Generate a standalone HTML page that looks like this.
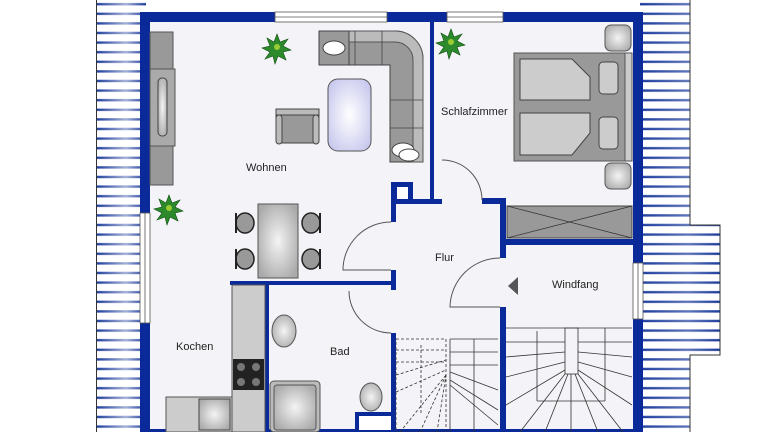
<!DOCTYPE html>
<html><head><meta charset="utf-8"><style>
html,body{margin:0;padding:0;background:#fff;width:768px;height:432px;overflow:hidden}
svg{display:block}
text{font-family:"Liberation Sans",sans-serif;font-size:11px;fill:#222}
</style></head><body>
<svg width="768" height="432" viewBox="0 0 768 432" xmlns="http://www.w3.org/2000/svg">
<defs>
<pattern id="hl" width="10" height="9.6" patternUnits="userSpaceOnUse">
<rect x="0" y="3" width="10" height="2.4" fill="#1c3c9c"/>
</pattern>
<linearGradient id="fadeL" x1="0" x2="1"><stop offset="0" stop-color="#fff" stop-opacity="0"/><stop offset="0.6" stop-color="#fff" stop-opacity="0.6"/><stop offset="1" stop-color="#fff" stop-opacity="0"/></linearGradient>
<radialGradient id="tab" cx="0.5" cy="0.5" r="0.6"><stop offset="0" stop-color="#fff"/><stop offset="1" stop-color="#c9c9ee"/></radialGradient>
<radialGradient id="gr" cx="0.5" cy="0.5" r="0.6"><stop offset="0" stop-color="#f4f4f4"/><stop offset="1" stop-color="#aaa"/></radialGradient>
</defs>
<rect x="96" y="0" width="50" height="432" fill="url(#hl)"/>
<rect x="96" y="0" width="50" height="432" fill="url(#fadeL)"/>
<line x1="96.5" y1="0" x2="96.5" y2="432" stroke="#333" stroke-width="1"/>
<rect x="640" y="0" width="50" height="432" fill="url(#hl)"/>
<rect x="690" y="225" width="30" height="130" fill="url(#hl)"/>
<rect x="640" y="0" width="80" height="432" fill="url(#fadeL)" opacity="0.5"/>
<path d="M690 0V225H720V355H690V432" fill="none" stroke="#333" stroke-width="1"/>
<rect x="146" y="18" width="490" height="414" fill="#f4f4f8"/>
<g fill="#0a2a9a">
<rect x="140" y="12" width="503" height="10"/>
<rect x="140" y="12" width="10" height="420"/>
<rect x="633" y="12" width="10" height="420"/>
<rect x="140" y="429" width="503" height="3"/>
</g>
<g fill="#fff" stroke="#555" stroke-width="0.8">
<rect x="275" y="12" width="112" height="10"/><line x1="275" y1="17" x2="387" y2="17"/>
<rect x="447" y="12" width="56" height="10"/><line x1="447" y1="17" x2="503" y2="17"/>
<rect x="140" y="213" width="10" height="110"/><line x1="145" y1="213" x2="145" y2="323"/>
<rect x="633" y="263" width="10" height="56"/><line x1="638" y1="263" x2="638" y2="319"/>
</g>
<g fill="#0a2a9a">
<rect x="430" y="22" width="4" height="182"/>
<rect x="391" y="182" width="22" height="22"/>
<rect x="391" y="199" width="51" height="5"/>
<rect x="482" y="198" width="24" height="6"/>
<rect x="500" y="198" width="6" height="60"/>
<rect x="500" y="307" width="6" height="125"/>
<rect x="506" y="239" width="127" height="6"/>
<rect x="391" y="204" width="5" height="18"/>
<rect x="230" y="281" width="162" height="4"/>
<rect x="391" y="270" width="5" height="20"/>
<rect x="391" y="333" width="5" height="99"/>
<rect x="265" y="285" width="4" height="147"/>
<rect x="355" y="412" width="37" height="4"/>
<rect x="355" y="412" width="4" height="20"/>
</g>
<rect x="397" y="187" width="11" height="12" fill="#fff"/>
<rect x="359" y="416" width="32" height="14" fill="#fff"/>
<g fill="none" stroke="#555" stroke-width="1">
<path d="M442 160 A40 40 0 0 1 482 200"/>
<path d="M500 258 A50 50 0 0 0 450 307 H500"/>
<path d="M391 222 A48 48 0 0 0 343 270 H391"/>
<path d="M391 333 A42 42 0 0 1 349 291"/>
</g>
<path d="M518 277 L508 286 L518 295 Z" fill="#555"/>
<rect x="507" y="206" width="125" height="32" fill="#999" stroke="#444"/>
<path d="M507 206 L632 238 M507 238 L632 206" stroke="#333" stroke-width="0.8"/>
<rect x="514" y="53" width="118" height="108" fill="#999" stroke="#555"/>
<path d="M520 59 H572 L590 77 V100 H520 Z" fill="#ccc" stroke="#444"/>
<path d="M520 113 H590 V133 L572 155 H520 Z" fill="#ccc" stroke="#444"/>
<rect x="599" y="62" width="19" height="32" rx="4" fill="#ccc" stroke="#444"/>
<rect x="599" y="117" width="19" height="32" rx="4" fill="#ccc" stroke="#444"/>
<rect x="625" y="53" width="7" height="108" fill="#ccc" stroke="#555"/>
<rect x="605" y="25" width="26" height="26" rx="6" fill="url(#gr)" stroke="#555"/>
<rect x="605" y="163" width="26" height="26" rx="6" fill="url(#gr)" stroke="#555"/>
<rect x="150" y="32" width="23" height="153" fill="#999" stroke="#555"/>
<rect x="150" y="69" width="25" height="77" fill="#aaa" stroke="#555"/>
<rect x="158" y="78" width="9" height="58" rx="4" fill="url(#gr)" stroke="#444"/>
<!-- sofa -->
<path d="M319 31 H395 A28 28 0 0 1 423 59 V162 H390 V65 H319 Z" fill="#999" stroke="#444"/>
<path d="M319 31 H395 A28 28 0 0 1 423 59 V162 H413 V60 A18 18 0 0 0 395 42 H319 Z" fill="#bbb" stroke="#555"/>
<g stroke="#444" stroke-width="0.8"><line x1="355" y1="31" x2="355" y2="65"/><line x1="382" y1="31" x2="382" y2="65"/><line x1="390" y1="100" x2="423" y2="100"/><line x1="390" y1="128" x2="423" y2="128"/></g>
<rect x="319" y="31" width="30" height="34" fill="#999" stroke="#444"/>
<ellipse cx="334" cy="48" rx="11" ry="7" fill="#fff" stroke="#444"/>
<ellipse cx="403" cy="150" rx="11" ry="7" fill="#fff" stroke="#444"/>
<ellipse cx="409" cy="155" rx="10" ry="6" fill="#fff" stroke="#444"/>
<rect x="328" y="79" width="43" height="72" rx="10" fill="url(#tab)" stroke="#555"/>
<rect x="276" y="109" width="43" height="34" rx="3" fill="#999" stroke="#444"/>
<rect x="276" y="109" width="43" height="6" fill="#bbb" stroke="#444"/>
<rect x="276" y="115" width="6" height="29" rx="3" fill="#bbb" stroke="#444"/>
<rect x="313" y="115" width="6" height="29" rx="3" fill="#bbb" stroke="#444"/>
<g fill="#2c8a2c" stroke="#0b4a0b" stroke-width="0.6">
<path d="M277 34 l3 8 8-3-5 7 8 4-8 2 3 8-8-4-3 8-2-8-8 3 5-7-8-4 8-2-3-8 7 4z"/>
<path d="M451 29 l3 8 8-3-5 7 8 4-8 2 3 8-8-4-3 8-2-8-8 3 5-7-8-4 8-2-3-8 7 4z"/>
<path d="M169 195 l3 8 8-3-5 7 8 4-8 2 3 8-8-4-3 8-2-8-8 3 5-7-8-4 8-2-3-8 7 4z"/>
</g>
<g fill="#9c3"><circle cx="277" cy="47" r="3"/><circle cx="451" cy="42" r="3"/><circle cx="169" cy="208" r="3"/></g>
<rect x="258" y="204" width="40" height="74" fill="url(#gr)" stroke="#555"/>
<g fill="#999" stroke="#222" stroke-width="1.5">
<ellipse cx="245" cy="223" rx="9" ry="10"/><ellipse cx="245" cy="259" rx="9" ry="10"/>
<ellipse cx="311" cy="223" rx="9" ry="10"/><ellipse cx="311" cy="259" rx="9" ry="10"/>
</g>
<g stroke="#222" stroke-width="2" fill="none">
<path d="M236 213 V233 M236 249 V269 M320 213 V233 M320 249 V269"/>
</g>
<rect x="232" y="285" width="33" height="147" fill="#ccc" stroke="#555"/>
<rect x="233" y="359" width="31" height="31" fill="#222"/>
<g fill="#777"><circle cx="241" cy="367" r="4"/><circle cx="256" cy="367" r="4"/><circle cx="241" cy="382" r="4"/><circle cx="256" cy="382" r="4"/></g>
<rect x="166" y="397" width="66" height="35" fill="#ccc" stroke="#555"/>
<rect x="199" y="399" width="31" height="31" fill="url(#gr)" stroke="#444"/>
<ellipse cx="284" cy="331" rx="12" ry="16" fill="url(#gr)" stroke="#555"/>
<rect x="270" y="381" width="50" height="51" rx="4" fill="#bbb" stroke="#555"/>
<rect x="274" y="385" width="42" height="45" rx="3" fill="url(#gr)" stroke="#555"/>
<ellipse cx="371" cy="397" rx="11" ry="14" fill="url(#gr)" stroke="#555"/>
<g fill="none" stroke="#333" stroke-width="0.8" stroke-dasharray="3,2">
<rect x="396" y="339" width="50" height="93"/>
<line x1="396" y1="350" x2="446" y2="350"/><line x1="396" y1="362" x2="446" y2="362"/>
<line x1="396" y1="375" x2="446" y2="360"/><line x1="396" y1="392" x2="446" y2="370"/>
<line x1="400" y1="432" x2="446" y2="375"/><line x1="420" y1="432" x2="446" y2="375"/>
<line x1="437" y1="432" x2="446" y2="375"/><line x1="421" y1="345" x2="421" y2="414"/>
</g>
<g fill="none" stroke="#333" stroke-width="0.8">
<line x1="450" y1="339" x2="498" y2="339"/><line x1="450" y1="339" x2="450" y2="432"/>
<line x1="450" y1="352" x2="498" y2="352"/><line x1="450" y1="365" x2="498" y2="365"/>
<line x1="450" y1="372" x2="498" y2="390"/><line x1="450" y1="380" x2="498" y2="410"/>
<line x1="450" y1="385" x2="498" y2="425"/><line x1="474" y1="339" x2="474" y2="432"/>
</g>
<g fill="none" stroke="#333" stroke-width="0.8">
<line x1="506" y1="328" x2="632" y2="328"/>
<rect x="565" y="328" width="13" height="46"/>
<line x1="537" y1="331" x2="537" y2="401"/><line x1="605" y1="328" x2="605" y2="401"/>
<line x1="537" y1="401" x2="605" y2="401"/>
<line x1="506" y1="342" x2="565" y2="342"/><line x1="578" y1="342" x2="632" y2="342"/>
<line x1="506" y1="357" x2="565" y2="352"/><line x1="578" y1="352" x2="632" y2="357"/>
<line x1="506" y1="377" x2="565" y2="362"/><line x1="578" y1="362" x2="632" y2="377"/>
<line x1="506" y1="405" x2="565" y2="370"/><line x1="578" y1="370" x2="632" y2="405"/>
<line x1="520" y1="432" x2="565" y2="374"/><line x1="623" y1="432" x2="578" y2="374"/>
<line x1="545" y1="432" x2="568" y2="374"/><line x1="598" y1="432" x2="575" y2="374"/>
<line x1="571" y1="374" x2="571" y2="432"/>
</g>
<text x="246" y="171">Wohnen</text>
<text x="441" y="115">Schlafzimmer</text>
<text x="435" y="261">Flur</text>
<text x="552" y="288">Windfang</text>
<text x="176" y="350">Kochen</text>
<text x="330" y="355">Bad</text>
</svg>
</body></html>
